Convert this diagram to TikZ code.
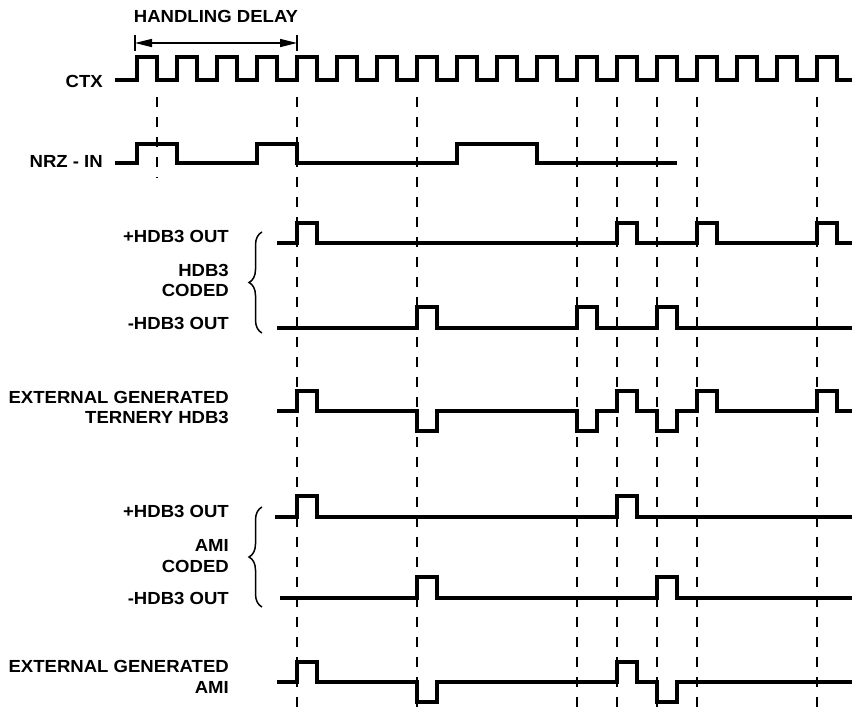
\documentclass[tikz,border=0pt]{standalone}
\usepackage{fontspec}
\setmainfont{Liberation Sans}[FakeStretch=1.06]
\usetikzlibrary{arrows.meta,decorations.pathreplacing}
\begin{document}
\begin{tikzpicture}[x=1pt,y=-1pt,line join=miter,
  wave/.style={line width=4pt},
  guide/.style={line width=1.4pt,dash pattern=on 10pt off 10pt},
  lbl/.style={font=\bfseries\fontsize{17.5}{20.5}\selectfont,inner sep=0pt,align=right,anchor=base east},
  grp/.style={line width=1.5pt,decorate,decoration={brace,amplitude=13pt}},
  tip/.style={line width=1.4pt,{Triangle[length=17pt,width=8pt]}-{Triangle[length=17pt,width=8pt]}}]
\useasboundingbox (0,0) rectangle (852,711);
\node[lbl,anchor=base,align=center] (delay) at (216,23) {HANDLING DELAY};
\node[lbl] (ctx) at (103,88) {CTX};
\node[lbl] (nrz) at (103,168) {NRZ - IN};
\node[lbl] (hdbp) at (229,243) {+HDB3 OUT};
\node[lbl] (hdbc) at (229,297) {HDB3\\CODED};
\node[lbl] (hdbm) at (229,330) {-HDB3 OUT};
\node[lbl] (hdbx) at (229,424) {EXTERNAL GENERATED\\TERNERY HDB3};
\node[lbl] (amip) at (229,517) {+HDB3 OUT};
\node[lbl] (amic) at (229,572) {AMI\\CODED};
\node[lbl] (amim) at (229,604) {-HDB3 OUT};
\node[lbl] (amix) at (229,693) {EXTERNAL GENERATED\\AMI};
\coordinate (hdl) at (135,43);
\coordinate (hdr) at (297,43);
\draw[line width=1.4pt] ([yshift=-8pt]hdl) -- ([yshift=8pt]hdl) ([yshift=-8pt]hdr) -- ([yshift=8pt]hdr);
\draw[tip] (hdl) -- (hdr);
\draw[guide] (157,97) -- (157,178);
\foreach \x in {297,417,577,617,657,697,817}
  \draw[guide] (\x,97) -- (\x,711);
\draw[grp] (262,333) -- (262,232);
\draw[grp] (262,607) -- (262,507);
\draw[wave] (115,80) foreach \t in {137,177,...,817} {-| (\t,57) -| ({\t+20},80)} -- (852,80);
\draw[wave] (115,163) -| (137,144) -| (177,163) -| (257,144) -| (297,163) -| (457,144) -| (537,163) -- (677,163);
\draw[wave] (277,243) -| (297,223) -| (317,243) -| (617,223) -| (637,243) -| (697,223) -| (717,243) -| (817,223) -| (837,243) -- (852,243);
\draw[wave] (277,328) -| (417,307) -| (437,328) -| (577,307) -| (597,328) -| (657,307) -| (677,328) -- (852,328);
\draw[wave] (277,411) -| (297,391) -| (317,411) -| (417,431) -| (437,411) -| (577,431) -| (597,411) -| (617,391) -| (637,411) -| (657,431) -| (677,411) -| (697,391) -| (717,411) -| (817,391) -| (837,411) -- (852,411);
\draw[wave] (275,517) -| (297,496) -| (317,517) -| (617,496) -| (637,517) -- (852,517);
\draw[wave] (280,598) -| (417,577) -| (437,598) -| (657,577) -| (677,598) -- (852,598);
\draw[wave] (277,682) -| (297,662) -| (317,682) -| (417,702) -| (437,682) -| (617,662) -| (637,682) -| (657,702) -| (677,682) -- (852,682);
\end{tikzpicture}
\end{document}
